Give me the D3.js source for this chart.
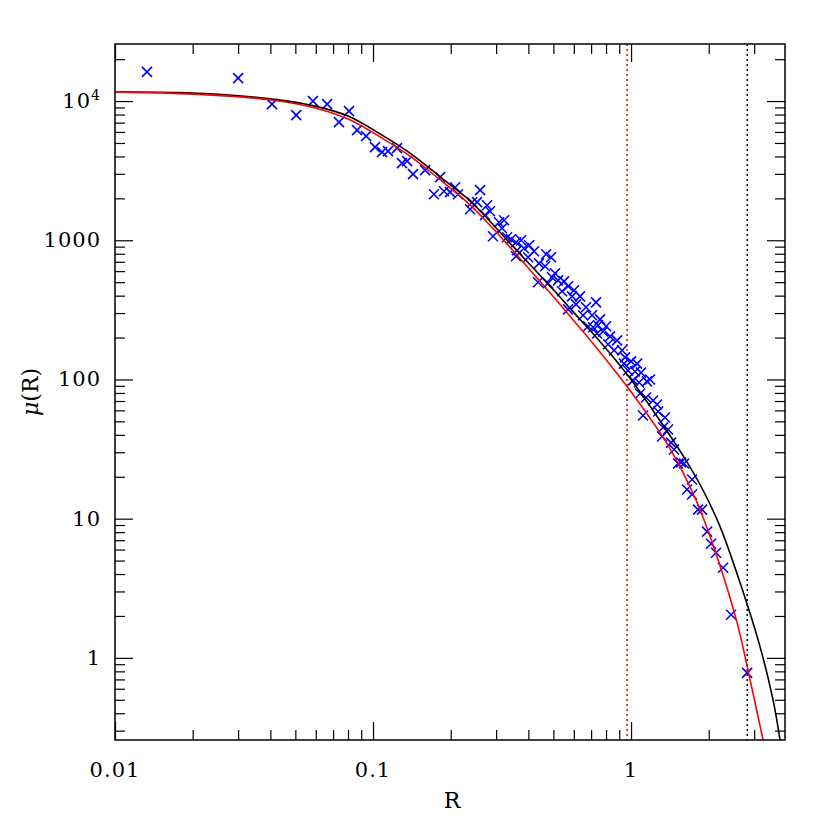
<!DOCTYPE html>
<html>
<head>
<meta charset="utf-8">
<script src="https://cdn.jsdelivr.net/npm/d3@7"></script>
<style>
  html, body { margin: 0; padding: 0; background: #fff; }
  text { font-family: "DejaVu Serif", "Liberation Serif", serif; }
</style>
</head>
<body>
<div class="chart"></div>
<script>
// observed points: radius R and surface density mu(R)
const obsR = [0.0133, 0.030, 0.0406, 0.0504, 0.0585, 0.0664, 0.0738, 0.0807, 0.0867, 0.094,
  0.1018, 0.1084, 0.1143, 0.1239, 0.1295, 0.1355, 0.1429, 0.1591, 0.182, 0.1722,
  0.1884, 0.1988, 0.208, 0.2135, 0.260, 0.242, 0.253, 0.2377, 0.2766, 0.284,
  0.2716, 0.3078, 0.322, 0.3162, 0.2917, 0.3306, 0.3426, 0.3583, 0.375, 0.4024,
  0.3615, 0.3846, 0.4207, 0.3583, 0.399, 0.4688, 0.4897, 0.44, 0.4645, 0.5074,
  0.494, 0.436, 0.4768, 0.5212, 0.5499, 0.570, 0.5402, 0.6013, 0.5907, 0.6342,
  0.612, 0.570, 0.669, 0.7316, 0.6516, 0.706, 0.7584, 0.7447, 0.6813, 0.7124,
  0.800, 0.779, 0.7384, 0.829, 0.8144, 0.8826, 0.8594, 0.923, 0.948, 1.0,
  0.9394, 1.055, 0.9736, 1.036, 1.093, 1.185, 1.018, 1.074, 1.153, 1.084,
  1.143, 1.217, 1.261, 1.113, 1.273, 1.354, 1.331, 1.391, 1.319, 1.429,
  1.468, 1.521, 1.562, 1.605, 1.723, 1.648, 1.723, 1.818, 1.884, 1.971,
  2.042, 2.135, 2.273, 2.442, 2.817];
const obsMu = [16200, 14600, 9510, 7930, 10000, 9510, 7060, 8470, 6180, 5600,
  4670, 4300, 4370, 4590, 3580, 3700, 2985, 3190, 2840, 2140,
  2250, 2215, 2405, 2140, 2290, 1877, 1880, 1671, 1786, 1617,
  1514, 1347, 1393, 1219, 1069, 1051, 1016, 968, 1000, 920,
  847, 876, 833, 767, 755, 793, 755, 683, 650, 579,
  542, 499, 491, 515, 507, 467, 430, 437, 395, 395,
  346, 319, 330, 358, 289, 289, 270, 245, 241, 237,
  241, 221, 214, 204, 179, 191, 162, 162, 144, 135,
  130, 130, 116, 114, 112, 100, 98.4, 95.1, 96.8, 79.3,
  74.2, 70.6, 66.1, 55.1, 58.9, 53.3, 45.2, 43.7, 38.9, 35.2,
  31.4, 24.9, 25.3, 24.9, 19.1, 16.2, 14.9, 11.6, 11.6, 8.07,
  6.61, 5.69, 4.44, 2.04, 0.780];

// red model curve
const redR = [0.01, 0.02, 0.0406, 0.0596, 0.080, 0.1084, 0.1391, 0.1868, 0.2314, 0.284,
  0.3396, 0.4246, 0.5074, 0.6067, 0.7384, 0.852, 0.965, 1.185, 1.379, 1.590,
  1.851, 2.174, 2.576, 2.893, 3.249];
const redMu = [11600, 11220, 10170, 8910, 7430, 5420, 4020, 2614, 1877, 1282,
  891, 556, 381, 258, 167, 120, 89, 52.7, 34.6, 21.4,
  11.6, 5.07, 1.79, 0.695, 0.257];

// black model curve
const blackR = [0.01, 0.02, 0.0406, 0.0596, 0.080, 0.1084, 0.1391, 0.1868, 0.2314, 0.284,
  0.3396, 0.4246, 0.5074, 0.6067, 0.7384, 0.852, 0.991, 1.295, 1.648, 1.901,
  2.213, 2.646, 3.162, 3.55, 3.78];
const blackMu = [11600, 11420, 10330, 9200, 7800, 5690, 4226, 2748, 2005, 1370,
  951, 612, 428, 296, 198, 145, 102, 50.5, 25.5, 16.0,
  8.76, 3.46, 1.20, 0.499, 0.257];

// vertical dotted markers
const redCut = 0.965;
const blackCut = 2.82;

const xMajor = [0.01, 0.1, 1];
const xLabels = ["0.01", "0.1", "1"];
const yMajor = [1, 10, 100, 1000, 10000];
const yLabels = ["1", "10", "100", "1000", "10^4"];

const width = 830, height = 830;
const margin = { top: 44, right: 45, bottom: 90, left: 115 };

const x = d3.scaleLog().domain([0.01, 3.95]).range([margin.left, width - margin.right]);
const y = d3.scaleLog().domain([0.257, 25700]).range([height - margin.bottom, margin.top]);

// minor ticks 2..9 in every decade inside the domain
function minorTicks(scale) {
  const [a, b] = scale.domain();
  const out = [];
  for (let e = Math.floor(Math.log10(a)); e <= Math.ceil(Math.log10(b)); e++) {
    for (let k = 2; k <= 9; k++) {
      const v = k * Math.pow(10, e);
      if (v > a && v < b) out.push(v);
    }
  }
  return out;
}

const svg = d3.select(".chart").append("svg")
  .attr("width", width)
  .attr("height", height);

svg.append("defs").append("clipPath").attr("id", "plot")
  .append("rect")
  .attr("x", margin.left).attr("y", margin.top)
  .attr("width", width - margin.left - margin.right)
  .attr("height", height - margin.top - margin.bottom);

const x0 = margin.left, x1 = width - margin.right;
const y0 = height - margin.bottom, y1 = margin.top;

// axes with inward ticks on all four sides
function addAxis(axis, tx, ty) {
  const g = svg.append("g").attr("transform", `translate(${tx},${ty})`).call(axis);
  g.select(".domain").remove();
  g.selectAll("line").attr("stroke", "#000").attr("stroke-width", 1.2);
  return g;
}
const xMin = minorTicks(x), yMin = minorTicks(y);
addAxis(d3.axisBottom(x).tickValues(xMin).tickSize(-10).tickFormat(""), 0, y0);
addAxis(d3.axisBottom(x).tickValues(xMajor).tickSize(-18).tickFormat(""), 0, y0);
addAxis(d3.axisTop(x).tickValues(xMin).tickSize(-10).tickFormat(""), 0, y1);
addAxis(d3.axisTop(x).tickValues(xMajor).tickSize(-18).tickFormat(""), 0, y1);
addAxis(d3.axisLeft(y).tickValues(yMin).tickSize(-10).tickFormat(""), x0, 0);
addAxis(d3.axisLeft(y).tickValues(yMajor).tickSize(-18).tickFormat(""), x0, 0);
addAxis(d3.axisRight(y).tickValues(yMin).tickSize(-10).tickFormat(""), x1, 0);
addAxis(d3.axisRight(y).tickValues(yMajor).tickSize(-18).tickFormat(""), x1, 0);

// tick labels
svg.append("g").selectAll("text")
  .data(xMajor)
  .enter().append("text")
  .attr("x", d => x(d))
  .attr("y", y0 + 37)
  .attr("text-anchor", "middle")
  .attr("font-size", 21)
  .attr("letter-spacing", 1)
  .text((d, i) => xLabels[i]);

const yl = svg.append("g").selectAll("text")
  .data(yMajor)
  .enter().append("text")
  .attr("x", x0 - 14)
  .attr("y", d => y(d) + 7)
  .attr("text-anchor", "end")
  .attr("font-size", 21)
  .attr("letter-spacing", 1);
yl.each(function (d, i) {
  const t = d3.select(this);
  const lab = yLabels[i];
  if (lab.indexOf("^") >= 0) {
    const [base, exp] = lab.split("^");
    t.append("tspan").text(base);
    t.append("tspan").attr("dy", -8).attr("font-size", 14).text(exp);
  } else {
    t.text(lab);
  }
});

// axis titles
svg.append("text")
  .attr("x", (x0 + x1) / 2 + 2)
  .attr("y", y0 + 68)
  .attr("text-anchor", "middle")
  .attr("font-size", 22)
  .text("R");

const yt = svg.append("text")
  .attr("transform", `translate(38,${(y0 + y1) / 2}) rotate(-90)`)
  .attr("text-anchor", "middle")
  .attr("font-size", 22);
yt.append("tspan").attr("font-style", "italic").text("μ");
yt.append("tspan").text("(R)");

const plot = svg.append("g").attr("clip-path", "url(#plot)");

// dotted verticals
plot.append("line")
  .attr("x1", x(redCut)).attr("x2", x(redCut))
  .attr("y1", y1).attr("y2", y0)
  .attr("stroke", "#e00000").attr("stroke-width", 1.5)
  .attr("stroke-dasharray", "2,3");
plot.append("line")
  .attr("x1", x(blackCut)).attr("x2", x(blackCut))
  .attr("y1", y1).attr("y2", y0)
  .attr("stroke", "#000").attr("stroke-width", 1.5)
  .attr("stroke-dasharray", "2,3");

// data crosses
const s = 5;
const pts = obsR.map((r, i) => ({ r: r, m: obsMu[i] }));
plot.append("g").selectAll("path")
  .data(pts)
  .enter().append("path")
  .attr("d", d => {
    const px = x(d.r), py = y(d.m);
    return `M${px - s},${py - s}L${px + s},${py + s}M${px - s},${py + s}L${px + s},${py - s}`;
  })
  .attr("stroke", "#0000ff")
  .attr("stroke-width", 1.6)
  .attr("fill", "none");

// model curves
const line = d3.line()
  .x(d => x(d[0]))
  .y(d => y(d[1]))
  .curve(d3.curveCatmullRom.alpha(0.5));

plot.append("path")
  .datum(blackR.map((r, i) => [r, blackMu[i]]))
  .attr("d", line)
  .attr("fill", "none")
  .attr("stroke", "#000")
  .attr("stroke-width", 1.6);

plot.append("path")
  .datum(redR.map((r, i) => [r, redMu[i]]))
  .attr("d", line)
  .attr("fill", "none")
  .attr("stroke", "#ff0000")
  .attr("stroke-width", 1.6);

// frame
svg.append("rect")
  .attr("x", x0).attr("y", y1)
  .attr("width", x1 - x0).attr("height", y0 - y1)
  .attr("fill", "none")
  .attr("stroke", "#000")
  .attr("stroke-width", 1.5);
</script>
</body>
</html>
